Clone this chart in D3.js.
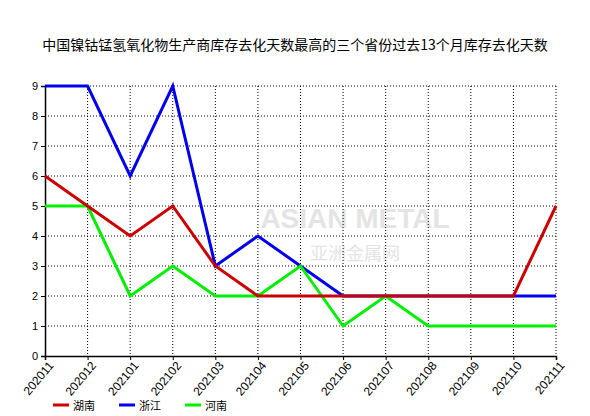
<!DOCTYPE html><html><head><meta charset="utf-8"><script src="https://cdn.jsdelivr.net/npm/d3@7"></script>
<style>body{margin:0;background:#fff}</style></head><body><svg id="c" width="590" height="416"></svg><script>
const months=["202011","202012","202101","202102","202103","202104","202105","202106","202107","202108","202109","202110","202111"];
const hunan=[6,5,4,5,3,2,2,2,2,2,2,2,5];
const zhejiang=[9,9,6,9,3,4,3,2,2,2,2,2,2];
const henan=[5,5,2,3,2,2,3,1,2,1,1,1,1];
const series=[{name:"湖南",v:hunan,c:"#cc0000"},{name:"浙江",v:zhejiang,c:"#0000ee"},{name:"河南",v:henan,c:"#00ee00"}];
const svg=d3.select("#c");const f="'Noto Sans CJK SC',sans-serif";
const L=45,R=556,T=86,B=356;
const x=d3.scalePoint().domain(months).range([L,R]);
const y=d3.scaleLinear().domain([0,9]).range([B,T]);
svg.append("text").attr("x",295).attr("y",50).attr("text-anchor","middle").attr("font-family",f).attr("font-size",14).text("中国镍钴锰氢氧化物生产商库存去化天数最高的三个省份过去13个月库存去化天数");
svg.append("text").attr("x",355).attr("y",228).attr("text-anchor","middle").attr("font-family","Arial,sans-serif").attr("font-size",28).attr("font-weight","bold").attr("fill","#e4e4e4").text("ASIAN METAL");
svg.append("text").attr("x",355).attr("y",260).attr("text-anchor","middle").attr("font-family",f).attr("font-size",18).attr("fill","#e4e4e4").text("亚洲金属网");
const g=svg.append("g");
d3.range(1,10).forEach(i=>g.append("line").attr("x1",L).attr("x2",R).attr("y1",y(i)).attr("y2",y(i)).attr("stroke","#000").attr("stroke-dasharray","1,2"));
months.slice(1).forEach(m=>g.append("line").attr("x1",x(m)).attr("x2",x(m)).attr("y1",T).attr("y2",B).attr("stroke","#000").attr("stroke-dasharray","1,2"));
const ya=svg.append("g").attr("transform",`translate(${L},0)`).call(d3.axisLeft(y).ticks(9).tickSize(4).tickFormat(d3.format("d")));
const xa=svg.append("g").attr("transform",`translate(0,${B})`).call(d3.axisBottom(x).tickSize(4));
[ya,xa].forEach(a=>{a.select(".domain").attr("stroke","#000").attr("stroke-width",1.5);a.selectAll("text").attr("font-family","Arial,sans-serif").attr("font-size",11).attr("fill","#000")});
xa.selectAll("text").attr("font-size",12).attr("text-anchor","end").attr("dx","-2").attr("dy","6").attr("transform","rotate(-50)");
const line=d3.line().x((d,i)=>x(months[i])).y(d=>y(d));
[1,2,0].forEach(k=>{const s=series[k];svg.append("path").attr("d",line(s.v)).attr("fill","none").attr("stroke",s.c).attr("stroke-width",3);});
series.forEach((s,k)=>{const lx=53+k*66;svg.append("line").attr("x1",lx).attr("x2",lx+16).attr("y1",405).attr("y2",405).attr("stroke",s.c).attr("stroke-width",3);
svg.append("text").attr("x",lx+20).attr("y",410).attr("font-family",f).attr("font-size",11).text(s.name);});
</script></body></html>
